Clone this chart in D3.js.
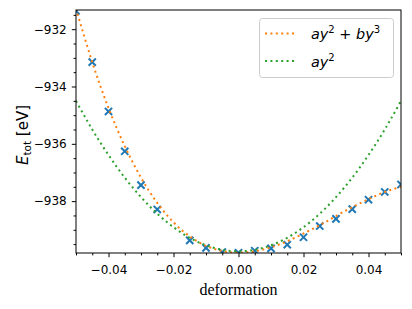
<!DOCTYPE html>
<html>
<head>
<meta charset="utf-8">
<script src="https://cdn.jsdelivr.net/npm/d3@7"></script>
<style>
  body { margin: 0; background: #fff; }
  svg { display: block; }
</style>
</head>
<body>
<div id="container"></div>
<script>
/* DATA */
const deformation = [-0.05, -0.045, -0.04, -0.035, -0.03, -0.025, -0.015, -0.01, -0.005, 0,
  0.005, 0.01, 0.015, 0.02, 0.025, 0.03, 0.035, 0.04, 0.045, 0.05];
const energy = [-931.36, -933.15, -934.87, -936.26, -937.44, -938.29, -939.37, -939.63, -939.78, -939.80,
  -939.73, -939.65, -939.52, -939.26, -938.87, -938.62, -938.28, -937.95, -937.68, -937.42];

// fitted curves
const curveX = [-0.05, -0.045, -0.04, -0.035, -0.03, -0.025, -0.02, -0.015, -0.01, -0.005, 0,
  0.005, 0.01, 0.015, 0.02, 0.025, 0.03, 0.035, 0.04, 0.045, 0.05];
const cubicFit = [-931.28, -933.15, -934.75, -936.08, -937.18, -938.06, -938.74, -939.23, -939.56, -939.74, -939.80,
  -939.75, -939.61, -939.40, -939.13, -938.84, -938.52, -938.21, -937.93, -937.68, -937.50];
const quadFit = [-934.50, -935.50, -936.39, -937.18, -937.86, -938.44, -938.91, -939.28, -939.54, -939.70, -939.75,
  -939.70, -939.54, -939.28, -938.91, -938.44, -937.86, -937.18, -936.39, -935.50, -934.50];

const xMajor = [-0.04, -0.02, 0, 0.02, 0.04];
const yMajor = [-938, -936, -934, -932];

/* CONSTANTS */
const width = 412, height = 309;
const margin = {top: 10, right: 11, bottom: 56, left: 76};
const blue = "#1f77b4", orange = "#ff7f0e", green = "#2ca02c";

const svg = d3.select("#container").append("svg")
  .attr("width", width)
  .attr("height", height);

const xScale = d3.scaleLinear()
  .domain([-0.05, 0.05])
  .range([margin.left, width - margin.right]);

const yScale = d3.scaleLinear()
  .domain([-939.81, -931.33])
  .range([height - margin.bottom, margin.top]);

const minus = s => s.replace("-", "\u2212");

svg.append("clipPath").attr("id", "clip")
  .append("rect")
  .attr("x", margin.left).attr("y", margin.top)
  .attr("width", width - margin.left - margin.right)
  .attr("height", height - margin.top - margin.bottom);

// minor ticks
const xMinor = d3.range(-0.05, 0.0501, 0.005).filter(v => !xMajor.some(m => Math.abs(m - v) < 1e-9));
const yMinor = d3.range(-939.5, -931, 0.5).filter(v => !yMajor.includes(v));

svg.append("g")
  .attr("transform", `translate(0,${height - margin.bottom})`)
  .call(d3.axisBottom(xScale).tickValues(xMinor).tickSize(2.4).tickFormat(""))
  .call(g => g.select(".domain").remove());

svg.append("g")
  .attr("transform", `translate(${margin.left},0)`)
  .call(d3.axisLeft(yScale).tickValues(yMinor).tickSize(2.4).tickFormat(""))
  .call(g => g.select(".domain").remove());

// major ticks
svg.append("g")
  .attr("transform", `translate(0,${height - margin.bottom})`)
  .call(d3.axisBottom(xScale).tickValues(xMajor).tickSize(4.2).tickPadding(8.3)
    .tickFormat(d => minus(d3.format(".2f")(d))))
  .call(g => g.select(".domain").remove())
  .call(g => g.selectAll("text").attr("font-family", "DejaVu Sans").attr("font-size", 12).attr("fill", "#000"));

svg.append("g")
  .attr("transform", `translate(${margin.left},0)`)
  .call(d3.axisLeft(yScale).tickValues(yMajor).tickSize(4.2).tickPadding(5.1)
    .tickFormat(d => minus(d3.format("d")(d))))
  .call(g => g.select(".domain").remove())
  .call(g => g.selectAll("text").attr("font-family", "DejaVu Sans").attr("font-size", 12).attr("fill", "#000"));

const plot = svg.append("g").attr("clip-path", "url(#clip)");

// data points
plot.selectAll("path.pt")
  .data(deformation.map((d, i) => [d, energy[i]]))
  .join("path")
  .attr("class", "pt")
  .attr("transform", d => `translate(${xScale(d[0])},${yScale(d[1])})`)
  .attr("d", "M-3.6,-3.6L3.6,3.6M-3.6,3.6L3.6,-3.6")
  .attr("stroke", blue)
  .attr("stroke-width", 2)
  .attr("fill", "none");

const line = d3.line()
  .x(d => xScale(d[0]))
  .y(d => yScale(d[1]))
  .curve(d3.curveNatural);

plot.append("path")
  .datum(curveX.map((d, i) => [d, cubicFit[i]]))
  .attr("d", line)
  .attr("fill", "none")
  .attr("stroke", orange)
  .attr("stroke-width", 2)
  .attr("stroke-dasharray", "2,3.4");

plot.append("path")
  .datum(curveX.map((d, i) => [d, quadFit[i]]))
  .attr("d", line)
  .attr("fill", "none")
  .attr("stroke", green)
  .attr("stroke-width", 2)
  .attr("stroke-dasharray", "2,3.4");

// frame
svg.append("rect")
  .attr("x", margin.left).attr("y", margin.top)
  .attr("width", width - margin.left - margin.right)
  .attr("height", height - margin.top - margin.bottom)
  .attr("fill", "none")
  .attr("stroke", "#000")
  .attr("stroke-width", 1);

// x label
svg.append("text")
  .attr("x", (margin.left + width - margin.right) / 2)
  .attr("y", 294.7)
  .attr("text-anchor", "middle")
  .attr("font-family", "Liberation Serif")
  .attr("font-size", 16)
  .text("deformation");

// y label
const ylab = svg.append("text")
  .attr("transform", "translate(27.5,135) rotate(-90)")
  .attr("text-anchor", "middle")
  .attr("font-family", "DejaVu Sans")
  .attr("font-size", 15);
ylab.append("tspan").attr("font-style", "italic").text("E");
ylab.append("tspan").attr("font-size", 10.5).attr("dy", 3).text("tot");
ylab.append("tspan").attr("dy", -3).text(" [eV]");

// legend
const legend = svg.append("g");
legend.append("rect")
  .attr("x", 259.5).attr("y", 18.5)
  .attr("width", 134).attr("height", 59)
  .attr("rx", 3)
  .attr("fill", "#fff").attr("fill-opacity", 0.8)
  .attr("stroke", "#ccc").attr("stroke-width", 1);

const entries = [
  {color: orange, y: 33.5, parts: [["ay", "i"], ["2", "sup"], [" + ", "r"], ["by", "i"], ["3", "sup"]]},
  {color: green, y: 61, parts: [["ay", "i"], ["2", "sup"]]}
];

entries.forEach(e => {
  legend.append("line")
    .attr("x1", 265).attr("x2", 297)
    .attr("y1", e.y).attr("y2", e.y)
    .attr("stroke", e.color)
    .attr("stroke-width", 2)
    .attr("stroke-dasharray", "2,3.4");
  const t = legend.append("text")
    .attr("x", 311).attr("y", e.y + 5.5)
    .attr("font-family", "DejaVu Sans")
    .attr("font-size", 14.4);
  let shifted = false;
  e.parts.forEach(([s, kind]) => {
    const ts = t.append("tspan").text(s);
    if (kind === "i") ts.attr("font-style", "italic");
    if (kind === "sup") { ts.attr("font-size", 10.1).attr("dy", -6); shifted = true; }
    else if (shifted) { ts.attr("dy", 6); shifted = false; }
  });
});
</script>
</body>
</html>
